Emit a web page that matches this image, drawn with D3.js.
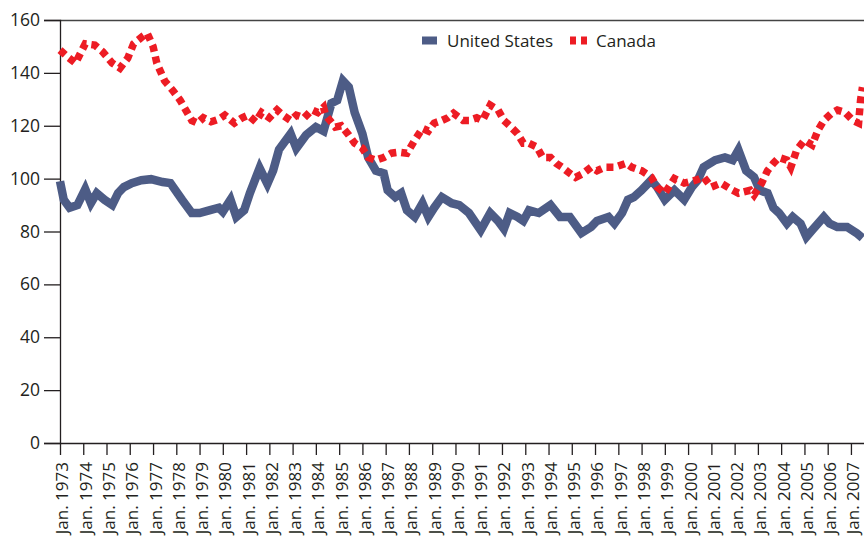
<!DOCTYPE html>
<html><head><meta charset="utf-8">
<script src="https://cdn.jsdelivr.net/npm/d3@7"></script>
<style>
html,body{margin:0;padding:0;background:#fff;}
svg{display:block;font-family:"Open Sans",sans-serif;}
</style></head>
<body>
<svg id="c" width="864" height="539"></svg>
<script>
// ---- data ----
const usDates = ["1973-01","1973-03","1973-06","1973-10","1974-02","1974-05","1974-08","1974-12","1975-04","1975-07","1975-10","1976-02","1976-07","1976-12","1977-06","1977-10","1978-04","1978-09","1979-01","1979-06","1979-11","1980-01","1980-05","1980-08","1980-12","1981-03","1981-08","1981-12","1982-03","1982-06","1982-12","1983-03","1983-08","1984-01","1984-05","1984-09","1984-12","1985-03","1985-06","1985-09","1986-01","1986-04","1986-08","1986-12","1987-02","1987-06","1987-09","1987-12","1988-04","1988-08","1988-11","1989-02","1989-06","1989-11","1990-03","1990-08","1991-02","1991-07","1991-11","1992-02","1992-05","1992-09","1992-12","1993-03","1993-08","1994-02","1994-07","1994-12","1995-06","1995-11","1996-02","1996-08","1996-11","1997-03","1997-06","1997-09","1998-01","1998-06","1998-09","1999-01","1999-06","1999-11","2000-03","2000-06","2000-09","2001-03","2001-08","2001-12","2002-03","2002-07","2002-11","2003-02","2003-06","2003-09","2003-12","2004-04","2004-07","2004-11","2005-02","2005-05","2005-11","2006-02","2006-06","2006-11","2007-04","2007-07"];
const usValues = [99,92,89,90,96,90.7,94.5,92,90,94.5,96.8,98.3,99.4,99.8,98.7,98.3,92,87,87,88,89,87.5,92,85.5,88,94.5,104,98,103,111,117,111.5,116.5,119.5,118,128.5,129.6,137,134.6,125,117,108,103,102,95.6,93,94.5,88,85.5,90.7,85.5,89,93,90.7,90,87,80.5,87,84,81,87,85.5,84,88,87,90,85.5,85.5,79.4,81.7,84,85.5,83,87,92,93,95.6,99.4,96.8,92,95.6,92,96.8,99.4,104.3,107,108,107,110.8,103,100.6,95.6,94.5,89,87,83,85.5,83,78,80.5,85.5,83,81.7,81.7,79.4,77.5];

const caDates = ["1973-01","1973-05","1973-09","1974-02","1974-07","1974-11","1975-04","1975-08","1975-12","1976-03","1976-08","1976-10","1977-01","1977-03","1977-07","1977-11","1978-03","1978-09","1978-12","1979-03","1979-07","1979-11","1980-02","1980-07","1980-11","1981-02","1981-06","1981-09","1982-01","1982-05","1982-08","1982-12","1983-03","1983-07","1983-11","1984-02","1984-05","1984-06","1984-11","1985-02","1985-06","1985-09","1986-01","1986-04","1986-08","1986-12","1987-04","1987-08","1987-12","1988-04","1988-08","1988-11","1989-02","1989-06","1989-09","1989-12","1990-05","1990-08","1990-12","1991-03","1991-07","1991-11","1992-02","1992-05","1992-09","1992-12","1993-03","1993-07","1993-10","1994-02","1994-05","1994-08","1994-12","1995-03","1995-07","1995-11","1996-02","1996-06","1996-11","1997-05","1997-08","1998-01","1998-06","1998-09","1999-01","1999-06","1999-11","2000-05","2000-09","2001-01","2001-06","2001-12","2002-03","2002-09","2002-11","2003-03","2003-06","2003-09","2003-12","2004-04","2004-06","2004-09","2005-01","2005-05","2005-08","2005-11","2006-03","2006-06","2006-10","2007-02","2007-05","2007-06","2007-07"];
const caValues = [148.6,146,143.7,151,150.5,148,143.7,141.8,145.6,151,154,155,150,143.7,137,133.5,129.7,122,121,123,121.5,122.5,124,121,123,124,121.5,125,123,126,124,122,124,123,126,125,127,124,119.5,120,116.5,113.4,111.5,108,107,108,109.6,110,109.6,114.5,119,118,121,122,123,124.7,122,122,123,122,127.8,126,122,120,117,113.4,113.4,112,108,108,105.8,104.3,102,100.5,102,104.3,103,104.3,104.3,105.8,104.3,103,100.6,96.8,94.5,100,98.3,99.4,100.6,96.8,98.3,95.6,94.5,95.6,93.8,98.3,103,105.8,108,107,104.3,110.8,114.5,112.7,118.3,122,124.7,125.9,125,122,121,129.7,134.6];

const yTicks = [0,20,40,60,80,100,120,140,160];
const xTickYears = d3.range(1973, 2008);
const seriesNames = ["United States","Canada"];

// ---- drawing ----
const svg = d3.select("#c");
const parse = d3.timeParse("%Y-%m");
const x = d3.scaleTime().domain([new Date(1973,0,1), new Date(2007,6,25)]).range([60,864]);
const y = d3.scaleLinear().domain([0,160]).range([443,20]);
const axisColor = "#231f20";

// top border
svg.append("line").attr("x1",60).attr("x2",864).attr("y1",20.5).attr("y2",20.5)
  .attr("stroke","#444").attr("stroke-width",1.5);

// y axis
const ya = svg.append("g").attr("transform","translate(60,0)")
  .call(d3.axisLeft(y).tickValues(yTicks).tickSize(16).tickPadding(4).tickFormat(d3.format("d")));
ya.select(".domain").attr("stroke",axisColor).attr("stroke-width",1.3);
ya.selectAll(".tick line").attr("stroke",axisColor).attr("stroke-width",1.3);
ya.selectAll("text").attr("font-size",17.5).attr("fill",axisColor).attr("font-family","'Open Sans',sans-serif");

// x axis
const xa = svg.append("g").attr("transform","translate(0,443)")
  .call(d3.axisBottom(x).tickValues(xTickYears.map(yr=>new Date(yr,0,1))).tickSize(12).tickSizeOuter(0)
     .tickFormat(d=>"Jan. "+d.getFullYear()));
xa.select(".domain").attr("stroke",axisColor).attr("stroke-width",1.3);
xa.selectAll(".tick line").attr("stroke",axisColor).attr("stroke-width",1.3);
xa.selectAll("text").attr("font-size",17).attr("fill",axisColor).attr("font-family","'Open Sans',sans-serif")
  .attr("text-anchor","end").attr("transform","rotate(-90)")
  .attr("x",-19).attr("y",2).attr("dy","0.35em");

const line = d3.line().x(d=>x(d[0])).y(d=>y(d[1]));
const us = usDates.map((d,i)=>[parse(d), usValues[i]]);
const ca = caDates.map((d,i)=>[parse(d), caValues[i]]);

svg.append("path").datum(us).attr("d",line).attr("fill","none")
  .attr("stroke","#4d5c86").attr("stroke-width",8.5).attr("stroke-linejoin","miter");
svg.append("path").datum(ca).attr("d",line).attr("fill","none")
  .attr("stroke","#ed1c24").attr("stroke-width",7.5).attr("stroke-dasharray","7,5");

// legend
const lg = svg.append("g");
lg.append("rect").attr("x",422).attr("y",36.5).attr("width",15).attr("height",8).attr("fill","#4d5c86");
lg.append("text").attr("x",447).attr("y",46.5).attr("font-size",17).attr("fill",axisColor).text(seriesNames[0]);
lg.append("line").attr("x1",570).attr("x2",587).attr("y1",40.5).attr("y2",40.5)
  .attr("stroke","#ed1c24").attr("stroke-width",8).attr("stroke-dasharray","6,5");
lg.append("text").attr("x",596).attr("y",46.5).attr("font-size",17).attr("fill",axisColor).text(seriesNames[1]);
</script>
</body></html>
